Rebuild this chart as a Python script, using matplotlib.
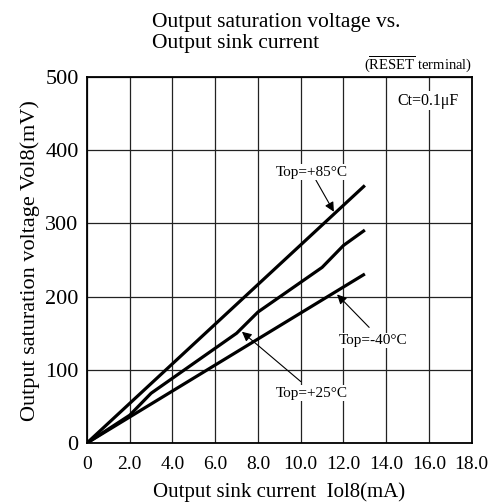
import matplotlib.pyplot as plt

plt.rcParams['font.family'] = ['Liberation Serif', 'DejaVu Serif']
plt.rcParams['mathtext.fontset'] = 'custom'
plt.rcParams['mathtext.rm'] = 'Liberation Serif'

# data
x85 = [0, 13]
y85 = [0, 352]
x25 = [0, 2, 3, 7, 8, 11, 12, 13]
y25 = [0, 38, 68, 150, 179, 240, 270, 291]
xm40 = [0, 13]
ym40 = [0, 231]

xticks = [0, 2, 4, 6, 8, 10, 12, 14, 16, 18]
xticklabels = ['0', '2.0', '4.0', '6.0', '8.0', '10.0', '12.0', '14.0', '16.0', '18.0']
yticks = [0, 100, 200, 300, 400, 500]

fig = plt.figure(figsize=(4.94, 5.04), dpi=100)
ax = fig.add_axes([0.176, 0.121, 0.779, 0.726])

ax.plot(x85, y85, color='black', lw=2.3, solid_capstyle='butt', zorder=3)
ax.plot(x25, y25, color='black', lw=2.3, solid_capstyle='butt', zorder=3)
ax.plot(xm40, ym40, color='black', lw=2.3, solid_capstyle='butt', zorder=3)

ax.set_xlim(0, 18)
ax.set_ylim(0, 500)
ax.set_xticks(xticks)
ax.set_xticklabels(xticklabels)
ax.set_yticks(yticks)
ax.tick_params(axis='x', length=0, labelsize=14, pad=9)
ax.tick_params(axis='y', length=0, labelsize=16, pad=6)
ax.grid(True, color='#222222', lw=0.9)
for s in ax.spines.values():
    s.set_linewidth(1.3)

ax.set_xlabel('Output sink current  Iol8(mA)', fontsize=15, labelpad=7)
ax.set_ylabel('Output saturation voltage Vol8(mV)', fontsize=16, labelpad=4)

fig.text(0.307, 0.935, 'Output saturation voltage vs.\nOutput sink current',
         fontsize=15.5, ha='left', va='center', linespacing=1.15)
ax.text(1.0, 1.008, r'($\overline{\mathrm{RESET}}$ terminal)', transform=ax.transAxes,
        ha='right', va='bottom', fontsize=10.5)

box = dict(facecolor='white', edgecolor='none', pad=1)
ax.text(15.96, 468, 'Ct=0.1μF', ha='center', va='center', fontsize=11.5, bbox=box, zorder=4)

arrow = dict(arrowstyle='-|>', color='black', lw=0.8, mutation_scale=14, shrinkA=0, shrinkB=0)
ax.annotate('Top=+85°C', xy=(11.55, 316), xytext=(10.5, 370), fontsize=11,
            ha='center', va='center', arrowprops=arrow, bbox=box, zorder=4)
ax.annotate('', xy=(11.7, 203), xytext=(13.2, 158), arrowprops=arrow, zorder=4)
ax.text(13.4, 140, 'Top=-40°C', fontsize=11, ha='center', va='center', bbox=box, zorder=4)
ax.annotate('', xy=(7.25, 152), xytext=(10.0, 84), arrowprops=arrow, zorder=4)
ax.text(10.5, 68, 'Top=+25°C', fontsize=11, ha='center', va='center', bbox=box, zorder=4)

fig.savefig('out.png', dpi=100)
